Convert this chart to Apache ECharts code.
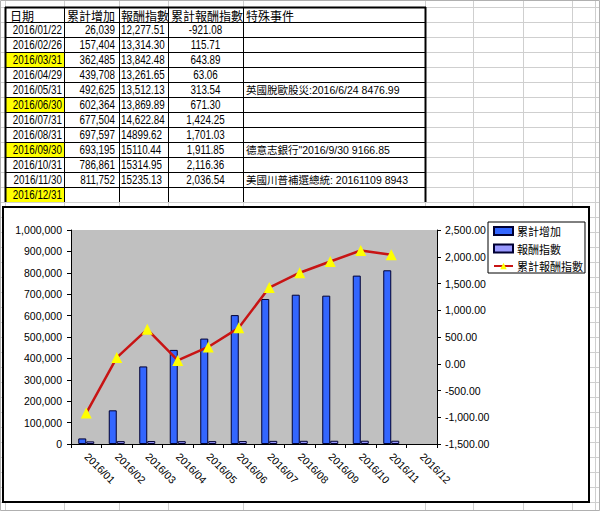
<!DOCTYPE html>
<html>
<head>
<meta charset="utf-8">
<script src="https://cdn.jsdelivr.net/npm/echarts@6/dist/echarts.min.js"></script>
<style>
html,body{margin:0;padding:0;background:#fff;}
#main{width:600px;height:511px;}
</style>
</head>
<body>
<div id="main"></div>
<script>
// ---- Table (spreadsheet) content ----
const headers = ['日期', '累計增加', '報酬指數', '累計報酬指數', '特殊事件'];
const dates = ['2016/01/22','2016/02/26','2016/03/31','2016/04/29','2016/05/31','2016/06/30','2016/07/31','2016/08/31','2016/09/30','2016/10/31','2016/11/30','2016/12/31'];
const highlighted = [false,false,true,false,false,true,false,false,true,false,false,true];
const cumIncreaseText = ['26,039','157,404','362,485','439,708','492,625','602,364','677,504','697,597','693,195','786,861','811,752',''];
const indexText = ['12,277.51','13,314.30','13,842.48','13,261.65','13,512.13','13,869.89','14,622.84','14899.62','15110.44','15314.95','15235.13',''];
const cumIndexText = ['-921.08','115.71','643.89','63.06','313.54','671.30','1,424.25','1,701.03','1,911.85','2,116.36','2,036.54',''];
const eventsText = ['','','','','英國脫歐股災:2016/6/24 8476.99','','','','德意志銀行"2016/9/30 9166.85','','美國川普補選總統: 20161109 8943',''];

// ---- Chart data ----
const categories = ['2016/01','2016/02','2016/03','2016/04','2016/05','2016/06','2016/07','2016/08','2016/09','2016/10','2016/11','2016/12'];
const seriesNames = ['累計增加', '報酬指數', '累計報酬指數'];
const cumIncrease = [26039, 157404, 362485, 439708, 492625, 602364, 677504, 697597, 693195, 786861, 811752, null];
const indexValues = [12277.51, 13314.30, 13842.48, 13261.65, 13512.13, 13869.89, 14622.84, 14899.62, 15110.44, 15314.95, 15235.13, null];
const cumIndex = [-921.08, 115.71, 643.89, 63.06, 313.54, 671.30, 1424.25, 1701.03, 1911.85, 2116.36, 2036.54, null];

function withCommas(s) { return s.replace(/\B(?=(\d{3})+(?!\d))/g, ','); }
function fmtInt(v) { return withCommas(String(Math.round(v))); }
function fmt2(v) {
  const neg = v < 0; const a = Math.abs(v).toFixed(2).split('.');
  return (neg ? '-' : '') + withCommas(a[0]) + '.' + a[1];
}

const NUM_FONT = "'Liberation Sans', Arial, sans-serif";
const CJK_FONT = "'Liberation Sans', 'Noto Sans CJK TC', sans-serif";

// ---- Spreadsheet layout ----
const colX = [5, 64, 119, 168, 243, 425];
const extraCols = [473, 523, 572, 595];
const rowTop = 7, rowH = 15;
const nRows = dates.length + 1;

const g = [];
// light gridlines of the sheet
[...colX, ...extraCols].forEach(x => g.push({type:'line', z:-20, shape:{x1:x+0.5,y1:0,x2:x+0.5,y2:511}, style:{stroke:'#cfcfcf', lineWidth:1}}));
for (let y = rowTop; y <= 511; y += rowH) g.push({type:'line', z:-20, shape:{x1:0,y1:y+0.5,x2:600,y2:y+0.5}, style:{stroke:'#cfcfcf', lineWidth:1}});
// yellow highlighted date cells
dates.forEach((d, i) => { if (highlighted[i]) g.push({type:'rect', z:-19, shape:{x:colX[0]+1, y:rowTop+rowH*(i+1)+1, width:colX[1]-colX[0]-1, height:rowH-1}, style:{fill:'#ffff00'}}); });
// table borders
for (let r = 0; r < nRows; r++) {
  const y = rowTop + rowH * r;
  g.push({type:'line', z:-18, shape:{x1:colX[0],y1:y+0.5,x2:colX[5]+1,y2:y+0.5}, style:{stroke:'#000', lineWidth: r === 0 ? 2 : 1}});
}
colX.forEach((x, i) => g.push({type:'line', z:-18, shape:{x1:x+0.5,y1:rowTop,x2:x+0.5,y2:rowTop+rowH*nRows}, style:{stroke:'#000', lineWidth:(i===0||i===5)?2:1}}));
// texts
function cell(text, x, r, align, font, sx) {
  if (!text) return;
  g.push({type:'text', z:-17, x:x, y:rowTop + rowH*r + rowH/2 + 0.5, scaleX: sx || 1,
          style:{text:text, x:0, y:0, textAlign:align, textVerticalAlign:'middle', font:font, fill:'#000'}});
}
const hdrX = [10, 67, 121, 171, 246];
headers.forEach((h, i) => cell(h, hdrX[i], 0, 'left', "12px 'Noto Sans CJK TC', sans-serif"));
const SX = 0.82;
dates.forEach((d, i) => {
  const r = i + 1;
  cell(d, 62, r, 'right', '12px ' + NUM_FONT, SX);
  cell(cumIncreaseText[i], 115, r, 'right', '12px ' + NUM_FONT, SX);
  cell(indexText[i], 121, r, 'left', '12px ' + NUM_FONT, SX);
  cell(cumIndexText[i], 205.5, r, 'center', '12px ' + NUM_FONT, SX);
  cell(eventsText[i], 246, r, 'left', '10.5px ' + CJK_FONT);
});
// chart frame
g.push({type:'rect', z:-10, shape:{x:3, y:207, width:586, height:295}, style:{fill:'#fff', stroke:'#000', lineWidth:2}});
// window border
g.push({type:'rect', z:-9, shape:{x:0.5, y:0.5, width:599, height:510}, style:{fill:'none', stroke:'#b0b0b0', lineWidth:1}});

const axisLabelStyle = {color:'#000', fontSize:10.5, fontFamily:NUM_FONT};
const option = {
  animation: false,
  backgroundColor: 'transparent',
  graphic: {elements: g},
  grid: {left:71, top:230, width:366, height:214, show:true, backgroundColor:'#c0c0c0', borderWidth:0, containLabel:false},
  legend: {
    orient:'vertical', left:488, top:222,
    data: seriesNames.map((n, i) => i < 2 ? {name:n, icon:'rect'} : {name:n}),
    itemWidth:19, itemHeight:8, itemGap:5.5,
    padding:[3, 2, 1, 5],
    borderColor:'#000', borderWidth:1, backgroundColor:'#fff',
    textStyle:{fontSize:11, fontFamily:"'Noto Sans CJK TC', sans-serif", color:'#000', padding:[0,0,0,-1], lineHeight:12}
  },
  xAxis: {
    type:'category', data:categories, boundaryGap:true,
    axisLine:{show:true, lineStyle:{color:'#000', width:1}},
    axisTick:{show:true, alignWithLabel:false, inside:false, length:4, lineStyle:{color:'#000'}, interval:0},
    axisLabel:{rotate:-45, interval:0, margin:11, ...axisLabelStyle},
    splitLine:{show:false}
  },
  yAxis: [
    {type:'value', min:0, max:1000000, interval:100000, position:'left',
     axisLine:{show:true, lineStyle:{color:'#000'}},
     axisTick:{show:true, length:4, lineStyle:{color:'#000'}},
     axisLabel:{margin:9, formatter:v => fmtInt(v), ...axisLabelStyle},
     splitLine:{show:false}},
    {type:'value', min:-1500, max:2500, interval:500, position:'right',
     axisLine:{show:true, lineStyle:{color:'#000'}},
     axisTick:{show:true, length:4, lineStyle:{color:'#000'}},
     axisLabel:{margin:8, formatter:v => fmt2(v), ...axisLabelStyle},
     splitLine:{show:false}}
  ],
  series: [
    {name:seriesNames[0], type:'bar', yAxisIndex:0, data:cumIncrease, barWidth:8, barGap:'0%',
     itemStyle:{color:'#3366ff', borderColor:'#000033', borderWidth:1}},
    {name:seriesNames[1], type:'bar', yAxisIndex:0, data:indexValues, barWidth:8, barGap:'0%',
     itemStyle:{color:'#9999ff', borderColor:'#000033', borderWidth:1}},
    {name:seriesNames[2], type:'line', yAxisIndex:1, data:cumIndex, connectNulls:false,
     symbol:'triangle', symbolSize:11, showAllSymbol:true,
     lineStyle:{color:'#c81414', width:2.5},
     itemStyle:{color:'#ffff00', borderWidth:0}}
  ]
};
const chart = echarts.init(document.getElementById('main'), null, {renderer:'svg'});
chart.setOption(option);
</script>
</body>
</html>
